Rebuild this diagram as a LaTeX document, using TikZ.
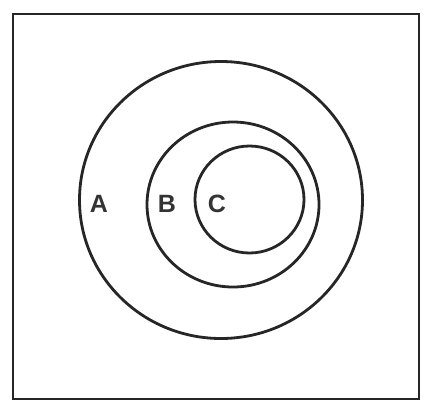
\documentclass[tikz,border=0pt]{standalone}
\usepackage{fontspec}
\setmainfont{Liberation Sans}
\tikzset{
  setline/.style={line width=2.8pt, black!85},
  setlabel/.style={font=\fontsize{25}{25}\selectfont\bfseries, text=black!80, inner sep=0pt}
}
\begin{document}
\begin{tikzpicture}[x=1pt, y=-1pt]
  \useasboundingbox (0,0) rectangle (427,402);
  % universe
  \draw[setline] (13,14) rectangle (419,399);
  % nested sets
  \draw[setline] (221,200) ellipse (141.5 and 138.5);
  \draw[setline] (233,204.5) ellipse (86 and 82.5);
  \draw[setline] (249.5,199.5) ellipse (54.5 and 53.5);
  \foreach \x / \s in {99/A, 167/B, 217/C} {
    \node[setlabel] (lab\s) at (\x, 204) {\s};
  }
\end{tikzpicture}
\end{document}
